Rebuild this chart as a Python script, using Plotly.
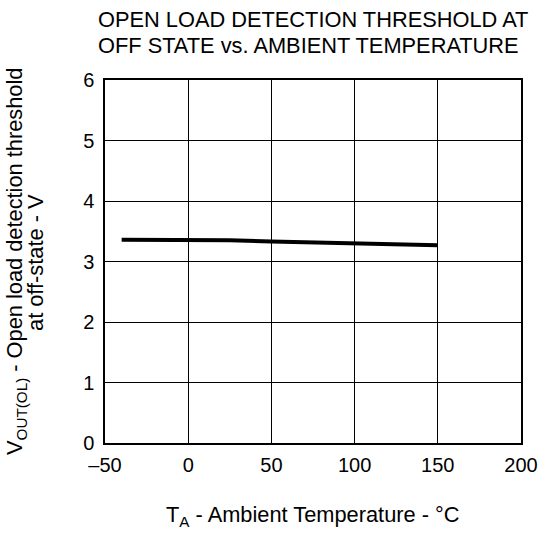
import plotly.graph_objects as go

# Open load detection threshold at off-state vs. ambient temperature
temp_c = [-40, 0, 25, 50, 100, 150]
v_threshold = [3.36, 3.36, 3.35, 3.33, 3.30, 3.27]

x_ticks = [-50, 0, 50, 100, 150, 200]
x_tick_text = ["\u201350", "0", "50", "100", "150", "200"]
y_ticks = [0, 1, 2, 3, 4, 5, 6]

title_lines = ["OPEN LOAD DETECTION THRESHOLD AT", "OFF STATE vs. AMBIENT TEMPERATURE"]
y_title_lines = ["V<sub>OUT(OL)</sub> - Open load detection threshold", "at off-state - V"]
x_title = "T<sub>A</sub> - Ambient Temperature - \u00b0C"

FONT = "Liberation Sans, Arial, sans-serif"
TXT = 21.8
TICK = 20

fig = go.Figure()
fig.add_trace(go.Scatter(
    x=temp_c, y=v_threshold, mode="lines",
    line=dict(color="black", width=4),
    showlegend=False, hoverinfo="skip",
))

annotations = []
# two-line title, left aligned with tight line spacing
for text, ypos in zip(title_lines, [1.1653, 1.0942]):
    annotations.append(dict(
        text=text, xref="paper", yref="paper", x=-0.0192, y=ypos,
        xanchor="left", yanchor="middle", showarrow=False, borderpad=0,
        font=dict(family=FONT, size=TXT, color="black"),
    ))
# two-line rotated y-axis title
for text, xpos in zip(y_title_lines, [-0.2139, -0.1683]):
    annotations.append(dict(
        text=text, xref="paper", yref="paper", x=xpos, y=0.4986,
        xanchor="center", yanchor="middle", textangle=-90, showarrow=False,
        borderpad=0, font=dict(family=FONT, size=TXT, color="black"),
    ))
# x-axis title
annotations.append(dict(
    text=x_title, xref="paper", yref="paper", x=0.4976, y=-0.201,
    xanchor="center", yanchor="middle", showarrow=False, borderpad=0,
    font=dict(family=FONT, size=TXT, color="black"),
))

fig.update_layout(
    width=541, height=533,
    margin=dict(l=105, r=20, t=80, b=90, autoexpand=False),
    paper_bgcolor="white", plot_bgcolor="white",
    font=dict(family=FONT, color="black", size=TICK),
    annotations=annotations,
)

fig.update_xaxes(
    range=[-50, 200], tickvals=x_ticks, ticktext=x_tick_text,
    showgrid=True, gridcolor="black", gridwidth=1,
    showline=True, linecolor="black", linewidth=1.5, mirror=True,
    zeroline=False, ticks="", ticklen=0, ticklabelstandoff=3,
    tickfont=dict(family=FONT, size=TICK), automargin=False,
)
fig.update_yaxes(
    range=[0, 6], tickvals=y_ticks,
    showgrid=True, gridcolor="black", gridwidth=1,
    showline=True, linecolor="black", linewidth=1.5, mirror=True,
    zeroline=False, ticks="", ticklen=0, ticklabelstandoff=5,
    tickfont=dict(family=FONT, size=TICK), automargin=False,
)

fig.write_html("out.html")
